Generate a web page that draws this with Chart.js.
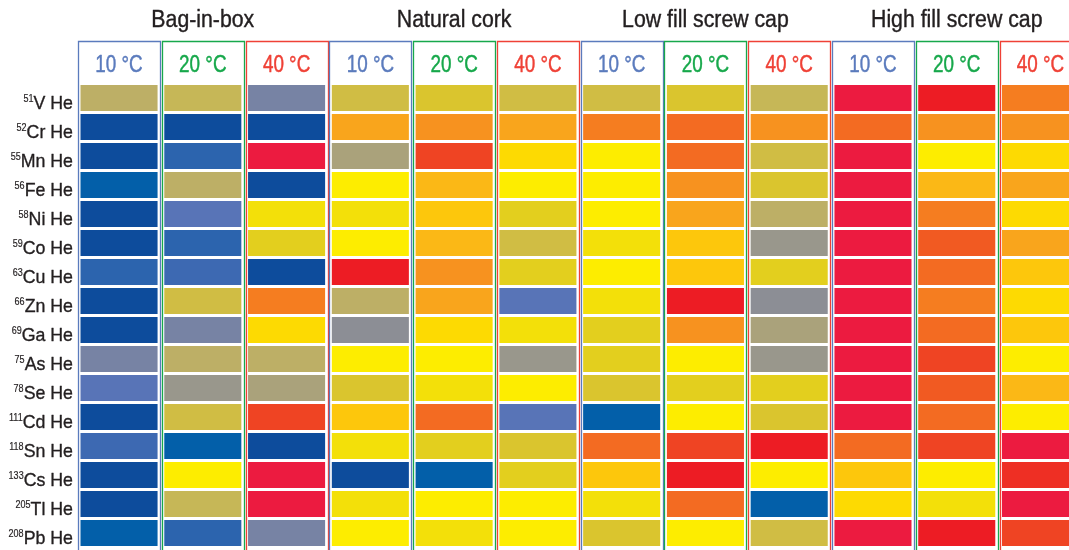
<!DOCTYPE html>
<html>
<head>
<meta charset="utf-8">
<title>Trace element migration by closure and storage temperature</title>
<script src="https://cdn.jsdelivr.net/npm/chart.js@4/dist/chart.umd.min.js"></script>
<style>
  html, body { margin: 0; padding: 0; background: #fff; overflow: hidden; }
  #wrap { position: relative; width: 1069px; height: 550px; overflow: hidden; }
  canvas { display: block; }
</style>
</head>
<body>
<div id="wrap"><canvas id="heat" width="1100" height="550"></canvas></div>
<script>
// Closure groups and storage temperatures (columns)
const closures = ['Bag-in-box', 'Natural cork', 'Low fill screw cap', 'High fill screw cap'];
const temperatures = ['10 °C', '20 °C', '40 °C'];
const temperatureColors = ['#5b7bbd', '#17a84b', '#ef4136'];

// Isotopes measured in He collision mode (rows): mass number, element label
const massNumbers = ['51', '52', '55', '56', '58', '59', '63', '66', '69', '75', '78', '111', '118', '133', '205', '208'];
const elementLabels = ['V He', 'Cr He', 'Mn He', 'Fe He', 'Ni He', 'Co He', 'Cu He', 'Zn He', 'Ga He', 'As He', 'Se He', 'Cd He', 'Sn He', 'Cs He', 'Tl He', 'Pb He'];

// Change score per isotope (0 = lowest / blue ... 27 = highest / crimson),
// one array per temperature, 16 values in isotope order
const bagInBox = [
  [9, 0, 0, 1, 0, 0, 2, 0, 0, 5, 4, 0, 3, 0, 0, 1],
  [10, 0, 2, 9, 4, 2, 3, 11, 5, 9, 7, 11, 1, 15, 10, 2],
  [5, 0, 27, 0, 14, 13, 0, 21, 16, 9, 8, 24, 0, 27, 27, 5]
];
const naturalCork = [
  [11, 19, 8, 15, 14, 15, 26, 9, 6, 15, 12, 17, 14, 0, 14, 15],
  [12, 20, 24, 18, 17, 18, 20, 19, 16, 15, 14, 22, 13, 1, 15, 14],
  [11, 19, 16, 15, 13, 11, 13, 4, 14, 7, 15, 4, 12, 13, 15, 15]
];
const lowFillScrewCap = [
  [11, 21, 15, 15, 15, 14, 15, 14, 13, 13, 12, 1, 22, 17, 14, 12],
  [12, 22, 22, 20, 19, 17, 17, 26, 20, 15, 13, 15, 24, 26, 22, 15],
  [10, 20, 11, 12, 9, 7, 13, 6, 8, 7, 13, 12, 26, 15, 1, 11]
];
const highFillScrewCap = [
  [27, 22, 27, 27, 27, 27, 27, 27, 27, 27, 27, 27, 22, 17, 16, 27],
  [26, 20, 15, 18, 21, 23, 22, 21, 22, 24, 23, 22, 24, 15, 14, 26],
  [21, 20, 16, 19, 16, 19, 17, 16, 17, 15, 18, 15, 27, 25, 27, 24]
];

// Colour scale for the scores
const scoreColors = [
  '#0d4c9c', '#035fa9', '#2c64ae', '#3d69b2', '#5874b7', '#7783a4', '#8c8e95',
  '#99978c', '#aaa27b', '#bdaf66', '#c6b757', '#d0bd44', '#dac52e', '#e3cf1e',
  '#f3e009', '#fded00', '#fdda02', '#fdc70c', '#fbb816', '#f9a51c', '#f7921f',
  '#f57d20', '#f36b22', '#f15a22', '#ef4423', '#ee2f24', '#ed1c24', '#ec1b40'
];

const groups = [bagInBox, naturalCork, lowFillScrewCap, highFillScrewCap];
const columnLabels = [];
const columnScores = [];
closures.forEach((c, g) => temperatures.forEach((t, k) => {
  columnLabels.push(c + ' ' + t);
  columnScores.push(groups[g][k]);
}));

// One floating-bar dataset per isotope row; all rows share the column slot
const datasets = elementLabels.map((name, i) => ({
  label: massNumbers[i] + ' ' + name,
  data: columnScores.map(() => [i + 0.05, i + 0.95]),
  backgroundColor: columnScores.map(col => scoreColors[col[i]]),
  borderWidth: 0,
  grouped: false,
  barPercentage: 0.92,
  categoryPercentage: 1.0
}));

const FONT = '"Liberation Sans", Arial, sans-serif';
const INK = '#231f20';

// Condensed-looking text: horizontally squeezed, with a hairline stroke for weight
function drawText(ctx, text, x, y, size, color, sx, align, weight) {
  ctx.save();
  ctx.font = size + 'px ' + FONT;
  ctx.fillStyle = color;
  ctx.strokeStyle = color;
  ctx.lineWidth = weight;
  ctx.lineJoin = 'round';
  ctx.textAlign = align;
  ctx.textBaseline = 'alphabetic';
  ctx.translate(x, y);
  ctx.scale(sx, 1);
  ctx.fillText(text, 0, 0);
  if (weight > 0) ctx.strokeText(text, 0, 0);
  const w = ctx.measureText(text).width * sx;
  ctx.restore();
  return w;
}

// Column frames, temperature headers, closure titles and isotope labels
const framePlugin = {
  id: 'frames',
  beforeDatasetsDraw(chart) {
    const { ctx, scales: { x } } = chart;
    const half = 41;
    ctx.save();
    ctx.lineWidth = 1.3;
    columnLabels.forEach((lab, j) => {
      const cx = x.getPixelForValue(j);
      const l = Math.round(cx - half) + 0.5;
      const r = Math.round(cx + half) + 0.5;
      ctx.strokeStyle = temperatureColors[j % 3];
      ctx.beginPath();
      ctx.moveTo(l, 560);
      ctx.lineTo(l, 41.5);
      ctx.lineTo(r, 41.5);
      ctx.lineTo(r, 560);
      ctx.stroke();
      drawText(ctx, temperatures[j % 3], cx, 72, 23, temperatureColors[j % 3], 0.82, 'center', 0.45);
    });
    closures.forEach((c, g) => {
      const cx = x.getPixelForValue(g * 3 + 1);
      drawText(ctx, c, cx, 27, 23, INK, 0.925, 'center', 0.4);
    });
    ctx.restore();
  },
  afterDraw(chart) {
    const { ctx, scales: { y } } = chart;
    const right = 73;
    elementLabels.forEach((name, i) => {
      const cy = y.getPixelForValue(i + 0.5);
      const base = cy + 11;
      const w = drawText(ctx, name, right, base, 18.5, INK, 0.96, 'right', 0.35);
      drawText(ctx, massNumbers[i], right - w, base - 7.5, 11, INK, 0.82, 'right', 0.2);
    });
  }
};

new Chart(document.getElementById('heat'), {
  type: 'bar',
  data: { labels: columnLabels, datasets },
  options: {
    responsive: false,
    animation: false,
    events: [],
    layout: { padding: { left: 77.15, right: 17.6, top: 83.5, bottom: 2.5 } },
    plugins: { legend: { display: false }, tooltip: { enabled: false }, title: { display: false } },
    scales: {
      x: { type: 'category', display: false, offset: true, grid: { display: false } },
      y: { type: 'linear', display: false, min: 0, max: 16, reverse: true, grid: { display: false } }
    }
  },
  plugins: [framePlugin]
});
</script>
</body>
</html>
